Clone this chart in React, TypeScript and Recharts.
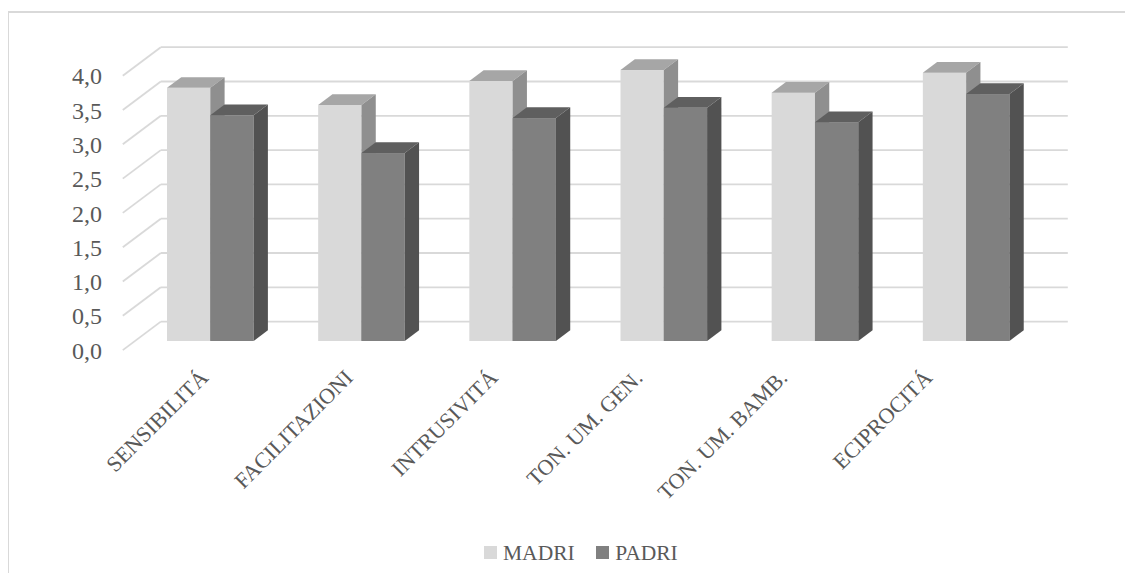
import React from 'react';
import { BarChart, Bar, XAxis, YAxis, CartesianGrid, Legend } from 'recharts';

const categories = ['SENSIBILITÁ', 'FACILITAZIONI', 'INTRUSIVITÁ', 'TON. UM. GEN.', 'TON. UM. BAMB.', 'ECIPROCITÁ'];
const madri = [3.69, 3.44, 3.79, 3.95, 3.62, 3.91];
const padri = [3.29, 2.74, 3.25, 3.4, 3.19, 3.6];
const yTicks = [0, 0.5, 1, 1.5, 2, 2.5, 3, 3.5, 4];

const data = categories.map((name, i) => ({ name, madri: madri[i], padri: padri[i] }));

const FONT = '"Liberation Serif", "Times New Roman", serif';
const TEXT = '#595959';
const GRID = '#d9d9d9';

// oblique projection offsets (bar plane -> front edge / back wall)
const FRONT_DX = -12.2;
const FRONT_DY = 9.1;
const BACK_DX = 25.8;
const BACK_DY = -19.4;
// bar depth
const DX = 14.3;
const DY = 10.7;

const bar3d = (front: string, top: string, side: string) => (props: any) => {
  const { x, y, width: w, height: h } = props;
  if (h == null || w == null) return null;
  return (
    <g>
      <rect x={x} y={y} width={w} height={h} fill={front} />
      <polygon points={`${x},${y} ${x + DX},${y - DY} ${x + w + DX},${y - DY} ${x + w},${y}`} fill={top} />
      <polygon points={`${x + w},${y} ${x + w + DX},${y - DY} ${x + w + DX},${y + h - DY} ${x + w},${y + h}`} fill={side} />
    </g>
  );
};

const gridLine = (props: any) => {
  const { x1, x2, y1, index } = props;
  return (
    <g key={`g-${index}`}>
      <line x1={x1 + FRONT_DX} y1={y1 + FRONT_DY} x2={x1 + BACK_DX} y2={y1 + BACK_DY} stroke={GRID} strokeWidth={1.8} />
      <line x1={x1 + BACK_DX} y1={y1 + BACK_DY} x2={x2 + BACK_DX} y2={y1 + BACK_DY} stroke={GRID} strokeWidth={1.8} />
    </g>
  );
};

const YTick = (props: any) => {
  const { y, payload } = props;
  return (
    <text x={93} y={y + FRONT_DY} dy="0.36em" textAnchor="end" fontFamily={FONT} fontSize={24} fill={TEXT}>
      {payload.value.toFixed(1).replace('.', ',')}
    </text>
  );
};

const XTick = (props: any) => {
  const { x, y, payload } = props;
  const ty = y + 38;
  return (
    <text x={x} y={ty} textAnchor="end" transform={`rotate(-45, ${x}, ${ty})`} fontFamily={FONT} fontSize={22} fill={TEXT}>
      {payload.value}
    </text>
  );
};

const LegendBox = (props: any) => {
  const items = props.payload || [];
  return (
    <div style={{ display: 'flex', alignItems: 'center', height: 24, fontFamily: FONT, fontSize: 21.5, color: TEXT }}>
      {items.map((it: any, i: number) => (
        <div key={it.value} style={{ display: 'flex', alignItems: 'center', marginLeft: i === 0 ? 0 : 21.5 }}>
          <span style={{ width: 12.5, height: 12.5, background: it.color, marginRight: 6.5, display: 'inline-block' }} />
          <span style={{ lineHeight: '24px' }}>{it.value}</span>
        </div>
      ))}
    </div>
  );
};

export default function App() {
  return (
    <div style={{ paddingTop: 3 }}>
      <div style={{ borderLeft: `2px solid ${GRID}`, borderTop: `2px solid ${GRID}`, width: 1124, height: 560, marginLeft: -1 }}>
        <BarChart
          width={1115}
          height={560}
          data={data}
          margin={{ top: 53.6, right: 82, left: 0, bottom: 8.5 }}
          barGap={0}
        >
          <CartesianGrid vertical={false} horizontal={gridLine} />
          <XAxis xAxisId="main" dataKey="name" hide />
          <XAxis
            xAxisId="lbl"
            dataKey="name"
            height={199.5}
            axisLine={false}
            tickLine={false}
            tickSize={0}
            tickMargin={0}
            interval={0}
            padding={{ left: 2, right: 36 }}
            tick={<XTick />}
          />
          <YAxis
            width={126}
            domain={[0, 4]}
            ticks={yTicks}
            axisLine={false}
            tickLine={false}
            tick={<YTick />}
          />
          <Legend
            verticalAlign="bottom"
            align="left"
            height={24}
            wrapperStyle={{ left: 475, width: 'auto' }}
            content={<LegendBox />}
          />
          <Bar xAxisId="main" dataKey="madri" name="MADRI" fill="#d9d9d9" barSize={43.3} isAnimationActive={false} shape={bar3d('#d9d9d9', '#a6a6a6', '#8f8f8f')} />
          <Bar xAxisId="main" dataKey="padri" name="PADRI" fill="#808080" barSize={43.3} isAnimationActive={false} shape={bar3d('#808080', '#5f5f5f', '#525252')} />
        </BarChart>
      </div>
    </div>
  );
}
